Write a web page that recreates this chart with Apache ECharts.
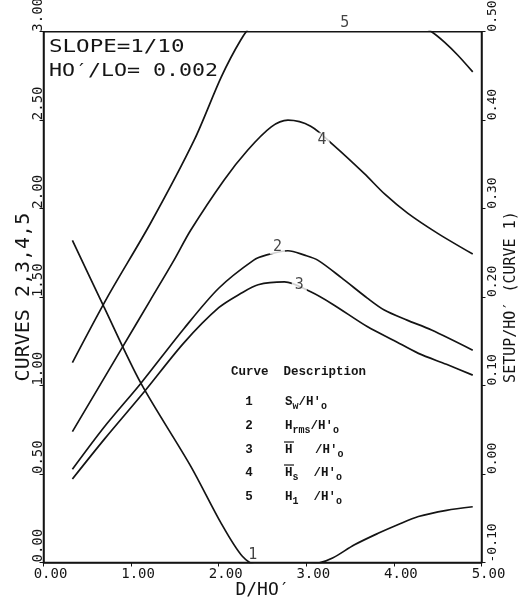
<!DOCTYPE html>
<html>
<head>
<meta charset="utf-8">
<title>Setup and wave heights, slope 1/10</title>
<script src="https://cdn.jsdelivr.net/npm/echarts@6/dist/echarts.min.js"></script>
<style>
  html, body { margin: 0; padding: 0; background: #fff; }
  #chart { width: 522px; height: 603px; }
</style>
</head>
<body>
<div id="chart"></div>
<script>
  const xTickLabels = ['0.00', '1.00', '2.00', '3.00', '4.00', '5.00']
  const leftTickLabels = ['0.00', '0.50', '1.00', '1.50', '2.00', '2.50', '3.00']
  const rightTickLabels = ['-0.10', '0.00', '0.10', '0.20', '0.30', '0.40', '0.50']

  // curve 1: setup, read on the right axis
  const curve1X = [0.33, 0.69, 1.11, 1.68, 2.03, 2.27, 2.45, 2.8, 3.13, 3.3, 3.55, 3.82, 4.05, 4.28, 4.6, 4.9]
  const curve1Y = [0.264, 0.189, 0.103, 0.009, -0.056, -0.093, -0.104, -0.105, -0.101, -0.095, -0.08, -0.067, -0.057, -0.048, -0.041, -0.037]
  // curves 2-5 on the left axis
  const curve2X = [0.33, 0.7, 1.11, 1.6, 2.0, 2.4, 2.54, 2.79, 2.98, 3.13, 3.4, 3.7, 3.89, 4.15, 4.43, 4.9]
  const curve2Y = [0.527, 0.77, 1.012, 1.32, 1.55, 1.709, 1.737, 1.762, 1.737, 1.709, 1.61, 1.493, 1.427, 1.37, 1.314, 1.2]
  const curve3X = [0.33, 0.7, 1.15, 1.6, 2.0, 2.25, 2.45, 2.75, 3.05, 3.3, 3.7, 4.0, 4.28, 4.6, 4.9]
  const curve3Y = [0.472, 0.7, 0.965, 1.24, 1.44, 1.52, 1.57, 1.586, 1.53, 1.46, 1.332, 1.255, 1.182, 1.12, 1.059]
  const curve4X = [0.33, 0.9, 1.22, 1.49, 1.68, 2.06, 2.33, 2.6, 2.79, 3.05, 3.31, 3.66, 3.9, 4.16, 4.5, 4.9]
  const curve4Y = [0.74, 1.216, 1.483, 1.709, 1.878, 2.161, 2.33, 2.462, 2.5, 2.466, 2.359, 2.199, 2.08, 1.973, 1.86, 1.743]
  const curve5X = [0.33, 0.73, 1.22, 1.72, 2.03, 2.25, 2.4, 2.7, 3.0, 3.4, 3.8, 4.2, 4.43, 4.58, 4.73, 4.9]
  const curve5Y = [1.13, 1.5, 1.916, 2.387, 2.745, 2.952, 3.05, 3.15, 3.2, 3.2, 3.15, 3.07, 3.0, 2.94, 2.867, 2.773]

  // curve numbers written next to the lines
  const curveTags = ['5', '4', '2', '3', '1']
  const curveTagX = [3.44, 3.18, 2.67, 2.92, 2.39]
  const curveTagY = [3.0, 2.387, 1.784, 1.568, 0.042]

  const legendNums = ['1', '2', '3', '4', '5']
  const legendText = [
    '{m|S}{s|w}{m|/H\'}{s|o}',
    '{m|H}{s|rms}{m|/H\'}{s|o}',
    '{m|H   /H\'}{s|o}',
    '{m|H}{s|s}{m|  /H\'}{s|o}',
    '{m|H}{s|1}{m|  /H\'}{s|o}'
  ]
  const legendBarred = [false, false, true, true, false]

  const ink = '#141414'
  const mono = '"DejaVu Sans Mono", monospace'
  const typewriter = '"Liberation Mono", "DejaVu Sans Mono", monospace'

  const pairs = (xs, ys) => xs.map((x, i) => [x, ys[i]])

  function lineSeries (name, xs, ys, axis) {
    return {
      name: name,
      type: 'line',
      yAxisIndex: axis,
      data: pairs(xs, ys),
      symbol: 'none',
      smooth: 0.3,
      clip: true,
      lineStyle: { color: ink, width: 1.7 },
      z: 2
    }
  }

  const tagData = curveTags.map((t, i) => {
    const onLine = t !== '1' && t !== '5'
    return {
      value: [curveTagX[i], curveTagY[i], t],
      label: {
        position: t === '5' ? 'top' : 'inside',
        distance: 1,
        backgroundColor: onLine ? '#fff' : 'transparent',
        padding: onLine ? [0, 3] : 0
      }
    }
  })

  const legendRows = []
  legendNums.forEach((n, i) => {
    const y = [401.7, 425.7, 450, 473, 496.7][i]
    legendRows.push({
      type: 'text', x: 249, y: y,
      style: { text: n, font: 'bold 12.5px ' + typewriter, fill: ink, align: 'center', verticalAlign: 'middle' }
    })
    legendRows.push({
      type: 'text', x: 285, y: y,
      style: {
        text: legendText[i],
        fill: ink,
        verticalAlign: 'middle',
        rich: {
          m: { fontFamily: typewriter, fontSize: 12.5, fontWeight: 'bold', color: ink, lineHeight: 16 },
          s: { fontFamily: typewriter, fontSize: 10, fontWeight: 'bold', color: ink, padding: [9, 0, 0, 0] }
        }
      }
    })
    if (legendBarred[i]) {
      legendRows.push({
        type: 'line',
        shape: { x1: 284, y1: y - 8, x2: 294, y2: y - 8 },
        style: { stroke: ink, lineWidth: 1.2 }
      })
    }
  })

  const chart = echarts.init(document.getElementById('chart'))
  chart.setOption({
    animation: false,
    backgroundColor: '#fff',
    grid: {
      left: 43.5, right: 40.5, top: 31.7, bottom: 40.5,
      containLabel: false, outerBoundsMode: 'none',
      show: true, borderColor: ink, borderWidth: 1.5
    },
    xAxis: {
      type: 'value', min: 0, max: 5, interval: 1,
      name: 'D/HO\u2032', nameLocation: 'middle', nameGap: 19, nameMoveOverlap: false,
      nameTextStyle: { fontFamily: mono, fontSize: 18, color: ink },
      axisLine: { lineStyle: { color: ink, width: 1.5 } },
      axisTick: { length: 4, lineStyle: { color: ink } },
      splitLine: { show: false },
      axisLabel: {
        fontFamily: mono, fontSize: 14, color: ink, margin: 5,
        padding: [0, 0, 0, 14],
        formatter: (v, i) => xTickLabels[i]
      }
    },
    yAxis: [
      {
        type: 'value', min: 0, max: 3, interval: 0.5,
        name: 'CURVES 2,3,4,5', nameLocation: 'middle', nameGap: 10, nameRotate: 90, nameMoveOverlap: false,
        nameTextStyle: { fontFamily: mono, fontSize: 20, color: ink },
        axisLine: { lineStyle: { color: ink, width: 1.5 } },
        axisTick: { length: 4, lineStyle: { color: ink } },
        splitLine: { show: false },
        axisLabel: {
          fontFamily: mono, fontSize: 14, color: ink, margin: -2,
          rotate: 90, align: 'left', verticalAlign: 'bottom',
          formatter: (v, i) => leftTickLabels[i]
        }
      },
      {
        type: 'value', min: -0.1, max: 0.5, interval: 0.1, position: 'right',
        name: 'SETUP/HO\u2032 (CURVE 1)', nameLocation: 'middle', nameGap: 22, nameRotate: 90, nameMoveOverlap: false,
        nameTextStyle: { fontFamily: mono, fontSize: 15, color: ink },
        axisLine: { show: true, lineStyle: { color: ink, width: 1.5 } },
        axisTick: { show: true, length: 4, lineStyle: { color: ink } },
        splitLine: { show: false },
        axisLabel: {
          fontFamily: mono, fontSize: 13, color: ink, margin: 5,
          rotate: 90, align: 'left', verticalAlign: 'top',
          formatter: (v, i) => rightTickLabels[i]
        }
      }
    ],
    series: [
      lineSeries('curve 1', curve1X, curve1Y, 1),
      lineSeries('curve 2', curve2X, curve2Y, 0),
      lineSeries('curve 3', curve3X, curve3Y, 0),
      lineSeries('curve 4', curve4X, curve4Y, 0),
      lineSeries('curve 5', curve5X, curve5Y, 0),
      {
        name: 'tags',
        type: 'scatter',
        yAxisIndex: 0,
        clip: false,
        symbolSize: 1,
        itemStyle: { color: 'transparent' },
        z: 5,
        label: {
          show: true,
          fontFamily: mono, fontSize: 15, color: ink,
          formatter: p => p.value[2]
        },
        data: tagData
      }
    ],
    graphic: [
      {
        type: 'text', x: 49, y: 38, scaleX: 1.25,
        style: { text: 'SLOPE=1/10', font: '18px ' + mono, fill: ink }
      },
      {
        type: 'text', x: 49, y: 62, scaleX: 1.2,
        style: { text: 'HO\u2032/LO= 0.002', font: '18px ' + mono, fill: ink }
      },
      {
        type: 'text', x: 231, y: 371.7,
        style: { text: 'Curve  Description', font: 'bold 12.5px ' + typewriter, fill: ink, verticalAlign: 'middle' }
      }
    ].concat(legendRows)
  })
</script>
</body>
</html>
